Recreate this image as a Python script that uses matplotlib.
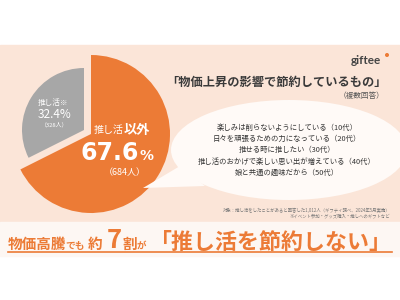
import matplotlib
matplotlib.use("Agg")
import matplotlib.pyplot as plt
from matplotlib.patches import Rectangle, Ellipse, Polygon, Circle

plt.rcParams['font.family'] = ['Noto Sans CJK JP', 'DejaVu Sans']

# ---- data ----
categories = ['推し活以外', '推し活※']
shares = [67.6, 32.4]
counts = [684, 328]
reasons = ['楽しみは削らないようにしている', '日々を頑張るための力になっている', '推せる時に推したい',
           '推し活のおかげで楽しい思い出が増えている', '娘と共通の趣味だから']
ages = ['10代', '20代', '30代', '40代', '50代']
title = '「物価上昇の影響で節約しているもの」'
subtitle = '（複数回答）'
footnotes = ['対象：推し活をしたことがあると回答した1,012人（ギフティ調べ、2024年5月実施）',
             '※イベント参加・グッズ購入・推しへのギフトなど']
headline_parts = ['物価高騰', 'でも', '約', '7', '割', 'が', '「推し活を節約しない」']

ORANGE = '#ec7b36'
GRAY = '#a7a7a7'
PEACH = '#fbe5d8'

fig = plt.figure(figsize=(4, 3), dpi=100)
ax = fig.add_axes([0, 0, 1, 1])

def Y(y):
    return 300 - y

# backgrounds
ax.add_patch(Rectangle((0, Y(222)), 400, 177, color=PEACH, zorder=0))
ax.add_patch(Rectangle((0, Y(256)), 400, 34, color='#fdf7f3', zorder=0))

# pie: main slice and exploded smaller slice
ax.pie(shares, colors=[ORANGE, 'none'], startangle=90, counterclock=False,
       center=(91, Y(134)), radius=79, wedgeprops=dict(linewidth=0), frame=True)
ax.pie(shares, colors=['none', GRAY], startangle=90, counterclock=False,
       center=(84, Y(130)), radius=62, wedgeprops=dict(linewidth=0), frame=True)

# speech bubble
ax.add_patch(Ellipse((289, Y(150)), 236, 100, color='#fffaf7', zorder=3, lw=0))
ax.add_patch(Polygon([(143, Y(188)), (180, Y(166)), (205, Y(186))], closed=True,
                     color='#fffaf7', zorder=3, lw=0))

# bubble text
for i, (r, a) in enumerate(zip(reasons, ages)):
    ax.text(287, Y(128 + i * 11.2), f'{r}（{a}）', fontsize=5.3, color='#333333',
            ha='center', va='center', zorder=4)

# title
ax.text(276, Y(82), title, fontsize=8.8, fontweight='bold', color='#3a3a3a',
        ha='center', va='center', zorder=4)
ax.text(362, Y(96), subtitle, fontsize=5.5, color='#555555', ha='center', va='center', zorder=4)

# logo
ax.text(366, Y(60), 'giftee', fontsize=8.5, fontweight='bold', color='#444444',
        family='Lato', ha='center', va='center', zorder=4)
ax.add_patch(Circle((387, Y(55)), 1.3, color=ORANGE, zorder=4))

# pie labels: gray slice
ax.text(53, Y(103), categories[1], fontsize=5.5, color='white', ha='center', va='center', zorder=4)
ax.text(55, Y(115), f'{shares[1]}%', fontsize=8.5, color='white', ha='center', va='center', zorder=4)
ax.text(55, Y(125), f'（{counts[1]}人）', fontsize=4.2, color='white', ha='center', va='center', zorder=4)

# pie labels: orange slice
ax.text(124, Y(130), categories[0][:3], fontsize=7.2, color='white', ha='right', va='center', zorder=4)
ax.text(124, Y(130), categories[0][3:], fontsize=9.5, fontweight='bold', color='white',
        ha='left', va='center', zorder=4)
ax.text(139, Y(160), f'{shares[0]}', fontsize=17, fontweight='bold', color='white',
        family='DejaVu Sans', ha='right', va='baseline', zorder=4)
ax.text(140, Y(160), '%', fontsize=10, fontweight='bold', color='white',
        family='DejaVu Sans', ha='left', va='baseline', zorder=4)
ax.text(125, Y(173), f'（{counts[0]}人）', fontsize=6.5, color='white', ha='center', va='center', zorder=4)

# footnotes
ax.text(390, Y(210), footnotes[0], fontsize=3.2, color='#777777', ha='right', va='center', zorder=4)
ax.text(390, Y(216), footnotes[1], fontsize=3.2, color='#777777', ha='right', va='center', zorder=4)

# headline, placed chunk by chunk (x, font size, alignment)
head_layout = [(8, 10.5, 'left'), (65, 7, 'left'), (88, 10.5, 'left'), (114, 18.5, 'center'),
               (122, 10.5, 'left'), (137, 6.8, 'left'), (392, 15.8, 'right')]
for txt, (hx, size, align) in zip(headline_parts, head_layout):
    ax.text(hx, Y(248.5), txt, fontsize=size, fontweight='bold', color=ORANGE,
            ha=align, va='baseline', zorder=4)
ax.plot([8, 392], [Y(251.5), Y(251.5)], color=ORANGE, lw=1.2, zorder=4)

ax.set_xlim(0, 400)
ax.set_ylim(0, 300)
ax.set_aspect('auto')
ax.axis('off')
fig.savefig('out.png', dpi=100, facecolor='white')
